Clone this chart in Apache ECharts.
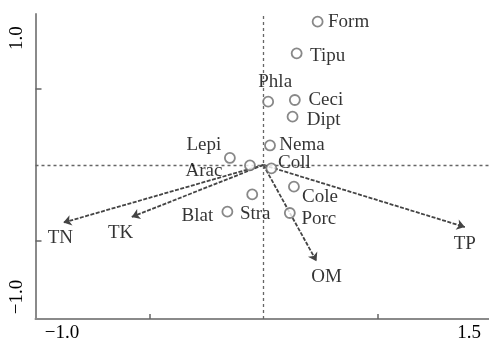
<!DOCTYPE html>
<html>
<head>
<meta charset="utf-8">
<script src="https://cdn.jsdelivr.net/npm/echarts@6/dist/echarts.min.js"></script>
<style>
html,body{margin:0;padding:0;background:#fff;}
#c{width:489px;height:343px;}
</style>
</head>
<body>
<div id="c"></div>
<script>
// ---- data ----
const species  = ['Form','Tipu','Phla','Ceci','Dipt','Nema','Coll','Lepi','Arac','Cole','Stra','Blat','Porc'];
const speciesX = [0.238, 0.146, 0.021, 0.138, 0.128, 0.029, 0.035, -0.147, -0.059, 0.134, -0.049, -0.158, 0.116];
const speciesY = [0.940, 0.732, 0.415, 0.426, 0.317, 0.128, -0.022, 0.046, -0.003, -0.142, -0.193, -0.306, -0.315];
const envVars  = ['TN','TK','TP','OM'];
const envX     = [-0.878, -0.578, 0.884, 0.233];
const envY     = [-0.378, -0.341, -0.407, -0.631];
const xTickValues = [-0.5, 0.5];
const yTickValues = [-0.5, 0.5];
const xTickLabels = ['\u22121.0', '1.5'];
const yTickLabels = ['1.0', '\u22121.0'];

// ---- styling (label placement) ----
const labelOffset = {
  Form:[31,0], Tipu:[31,3], Phla:[7,-20], Ceci:[31,0], Dipt:[31,3], Nema:[32,0],
  Coll:[23,-5], Lepi:[-26,-13], Arac:[-46,6], Cole:[26,10], Stra:[3,20],
  Blat:[-30,4], Porc:[29,6],
  TN:[-3,15], TK:[-11,16], TP:[0,17], OM:[10,16]
};
const FONT = 'Liberation Serif, Times New Roman, serif';
const TXT = '#000';

const chart = echarts.init(document.getElementById('c'), null, {renderer:'canvas'});

const xMin = -1.0, xMax = 0.99, yMin = -1.01, yMax = 0.99;

chart.setOption({
  animation: false,
  backgroundColor: '#fff',
  grid: {left: 35.5, right: 0, top: 14, bottom: 24, containLabel: false},
  xAxis: {
    type: 'value', min: xMin, max: xMax,
    axisLine: {onZero: false, lineStyle: {color: '#8a8a8a', width: 2}},
    axisTick: {show: true, inside: true, length: 5, customValues: xTickValues, lineStyle: {color: '#666', width: 1.5}},
    axisLabel: {show: false},
    splitLine: {show: false}
  },
  yAxis: {
    type: 'value', min: yMin, max: yMax,
    axisLine: {onZero: false, lineStyle: {color: '#8a8a8a', width: 2}},
    axisTick: {show: true, inside: true, length: 6, customValues: yTickValues, lineStyle: {color: '#666', width: 1.5}},
    axisLabel: {show: false},
    splitLine: {show: false}
  },
  series: [
    {
      type: 'scatter',
      name: 'envLabels',
      symbolSize: 1,
      itemStyle: {color: 'rgba(0,0,0,0)'},
      z: 3,
      data: envVars.map((n, i) => ({
        name: n, value: [envX[i], envY[i]],
        label: {offset: labelOffset[n]}
      })),
      label: {
        show: true, position: 'inside', formatter: p => p.name,
        color: TXT, fontFamily: FONT, fontSize: 19
      },
      markLine: {
        silent: true, symbol: 'none', animation: false,
        label: {show: false},
        lineStyle: {color: '#666', width: 1.3, type: [3, 3]},
        data: [{xAxis: 0}, {yAxis: 0}]
      }
    },
    {
      type: 'lines',
      coordinateSystem: 'cartesian2d',
      symbol: ['none', 'arrow'],
      symbolSize: [1, 8],
      z: 4,
      lineStyle: {color: '#444', width: 1.8, type: [4, 1.5], opacity: 1},
      data: envVars.map((n, i) => ({coords: [[0, 0], [envX[i], envY[i]]]}))
    },
    {
      type: 'scatter',
      name: 'species',
      symbol: 'circle',
      symbolSize: 10,
      z: 5,
      itemStyle: {color: '#fff', borderColor: '#6a6a6a', borderWidth: 1.8},
      data: species.map((n, i) => ({
        name: n, value: [speciesX[i], speciesY[i]],
        label: {offset: labelOffset[n]}
      })),
      label: {
        show: true, position: 'inside', formatter: p => p.name,
        color: TXT, fontFamily: FONT, fontSize: 19
      }
    }
  ]
});

// axis end labels placed relative to the axis extents
const bl = chart.convertToPixel({gridIndex: 0}, [xMin, yMin]);
const tr = chart.convertToPixel({gridIndex: 0}, [xMax, yMax]);
const tickFont = {fill: TXT, fontFamily: FONT, fontSize: 19, align: 'center', verticalAlign: 'middle'};
chart.setOption({
  graphic: [
    {type: 'text', x: bl[0] + 26.5, y: bl[1] + 14, style: Object.assign({text: xTickLabels[0]}, tickFont)},
    {type: 'text', x: tr[0] - 20, y: bl[1] + 14, style: Object.assign({text: xTickLabels[1]}, tickFont)},
    {type: 'text', x: bl[0] - 18.5, y: tr[1] + 24, rotation: Math.PI / 2, style: Object.assign({text: yTickLabels[0]}, tickFont)},
    {type: 'text', x: bl[0] - 18.5, y: bl[1] - 22, rotation: Math.PI / 2, style: Object.assign({text: yTickLabels[1]}, tickFont)}
  ]
});
</script>
</body>
</html>
